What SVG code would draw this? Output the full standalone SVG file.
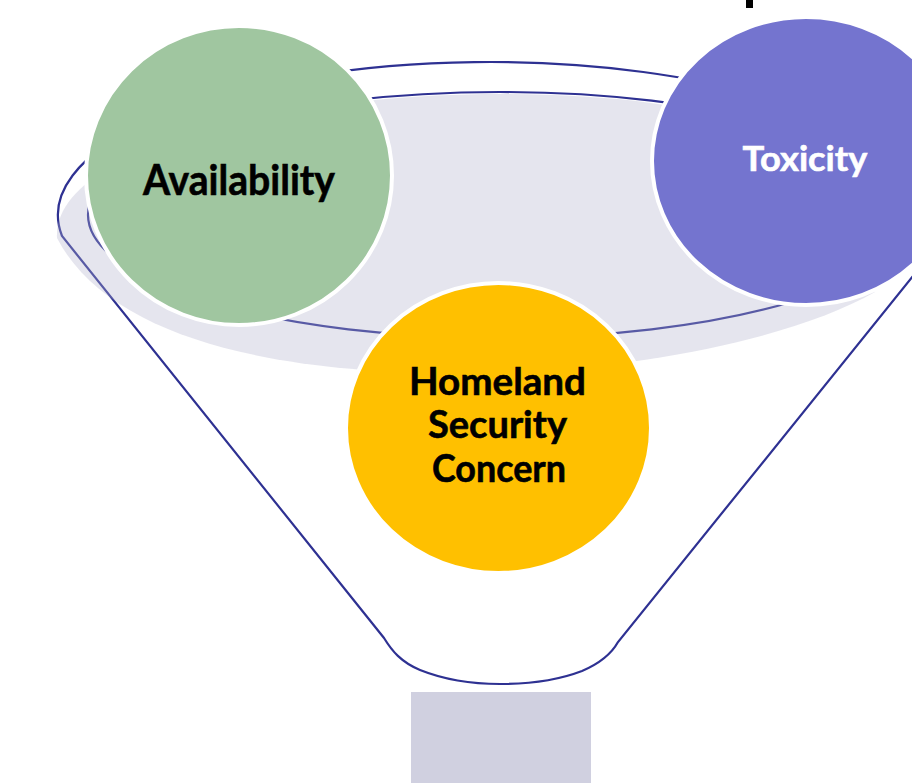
<svg xmlns="http://www.w3.org/2000/svg" width="912" height="783" viewBox="0 0 912 783">
  <style>
    .outline { fill: none; stroke: #2E3192; stroke-width: 2.2; }
    .node-shape { stroke: #FFFFFF; stroke-width: 4; }
    .label { font-family: Lato, "Liberation Sans", sans-serif; font-weight: bold; text-anchor: middle; stroke-width: 0.6; }
    .dark { fill: #000000; stroke: #000000; }
    .light { fill: #FFFFFF; stroke: #FFFFFF; }
  </style>
  <rect x="0" y="0" width="912" height="783" fill="#FFFFFF"/>
  <rect x="746" y="0" width="7" height="8" fill="#000000"/>

  <g id="funnel">
    <path class="outline" d="M 62,236 A 432,153 0 1 1 921,225 L 930,255 L 618,642 C 613,651 603,662 582,671 C 556,681 530,684 500,684 C 470,684 445,680 420,670 C 401,662 392,651 384,638 Z"/>
    <ellipse class="outline" cx="500" cy="215" rx="412" ry="123"/>
    <path d="M 57,238 C 52,150 280,94 500,94 C 720,94 870,140 880,250 L 875,292 C 800,335 650,370 480,373 C 280,376 110,340 57,238 Z" fill="#B0B0CA" fill-opacity="0.33"/>
    <rect x="411" y="692" width="180" height="91" fill="#D0D0E0"/>
  </g>

  <g id="connectors"></g>

  <g id="node-availability">
    <ellipse class="node-shape" cx="239" cy="175.5" rx="153" ry="149.5" fill="#A0C6A0"/>
    <text class="label dark" x="239" y="195" font-size="42" textLength="192" lengthAdjust="spacingAndGlyphs">Availability</text>
  </g>

  <g id="node-toxicity">
    <ellipse class="node-shape" cx="806" cy="161" rx="154" ry="144" fill="#7474CF"/>
    <text class="label light" x="805" y="171" font-size="35" textLength="125" lengthAdjust="spacingAndGlyphs">Toxicity</text>
  </g>

  <g id="node-homeland">
    <ellipse class="node-shape" cx="498.5" cy="428" rx="152.5" ry="145" fill="#FFC000"/>
    <text class="label dark" x="497.5" y="395" font-size="38" textLength="177" lengthAdjust="spacingAndGlyphs">Homeland</text>
    <text class="label dark" x="497.5" y="438" font-size="38" textLength="139" lengthAdjust="spacingAndGlyphs">Security</text>
    <text class="label dark" x="499" y="482" font-size="38" textLength="134" lengthAdjust="spacingAndGlyphs">Concern</text>
  </g>
</svg>
